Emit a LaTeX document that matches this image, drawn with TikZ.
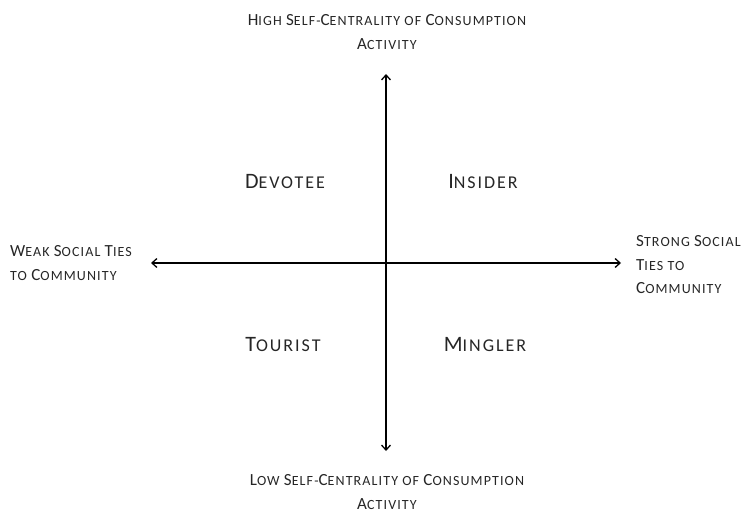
\documentclass[tikz,border=0pt]{standalone}
\usepackage{fontspec}
\setmainfont[LetterSpace=8]{Carlito}
\usetikzlibrary{arrows.meta}
% hand-made small capitals: \bc / \qc give the full-size capitals, the rest is set smaller
\newcommand\bc[1]{{\fontsize{17}{17}\selectfont #1}}
\newcommand\qc[1]{{\fontsize{22}{22}\selectfont #1}}
\begin{document}
\begin{tikzpicture}[x=1pt,y=1pt,
  axis/.style={line width=1.6pt, draw=black, {Straight Barb[length=5pt,width=9pt,line width=1.3pt]}-{Straight Barb[length=5pt,width=9pt,line width=1.3pt]}},
  axlabel/.style={font=\fontsize{14}{23.5}\selectfont, text=black!85, inner sep=0pt},
  quad/.style={font=\fontsize{18}{20}\selectfont\addfontfeatures{LetterSpace=11}, text=black!85, inner sep=0pt}]
\useasboundingbox (0,0) rectangle (742,-513);
% axis end points
\coordinate (top) at (386,-74);
\coordinate (bottom) at (386,-451);
\coordinate (left) at (151,-263);
\coordinate (right) at (621,-263);
\draw[axis] (bottom) -- (top);
\draw[axis] (left) -- (right);
% axis captions
\node[axlabel, align=center] (hi) at (387,-32)
  {\bc{H}IGH \bc{S}ELF-\bc{C}ENTRALITY OF \bc{C}ONSUMPTION\\ \bc{A}CTIVITY};
\node[axlabel, align=center] (lo) at (387,-492)
  {\bc{L}OW \bc{S}ELF-\bc{C}ENTRALITY OF \bc{C}ONSUMPTION\\ \bc{A}CTIVITY};
\node[axlabel, align=left, anchor=west] (weak) at (10,-263)
  {\bc{W}EAK \bc{S}OCIAL \bc{T}IES\\ TO \bc{C}OMMUNITY};
\node[axlabel, align=left, anchor=west] (strong) at (636,-265)
  {\bc{S}TRONG \bc{S}OCIAL\\ \bc{T}IES TO\\ \bc{C}OMMUNITY};
% quadrant names
\node[quad] (devotee) at (285,-182) {\qc{D}EVOTEE};
\node[quad] (insider) at (483,-182) {\qc{I}NSIDER};
\node[quad] (tourist) at (283,-345) {\qc{T}OURIST};
\node[quad] (mingler) at (485,-345) {\qc{M}INGLER};
\end{tikzpicture}
\end{document}
